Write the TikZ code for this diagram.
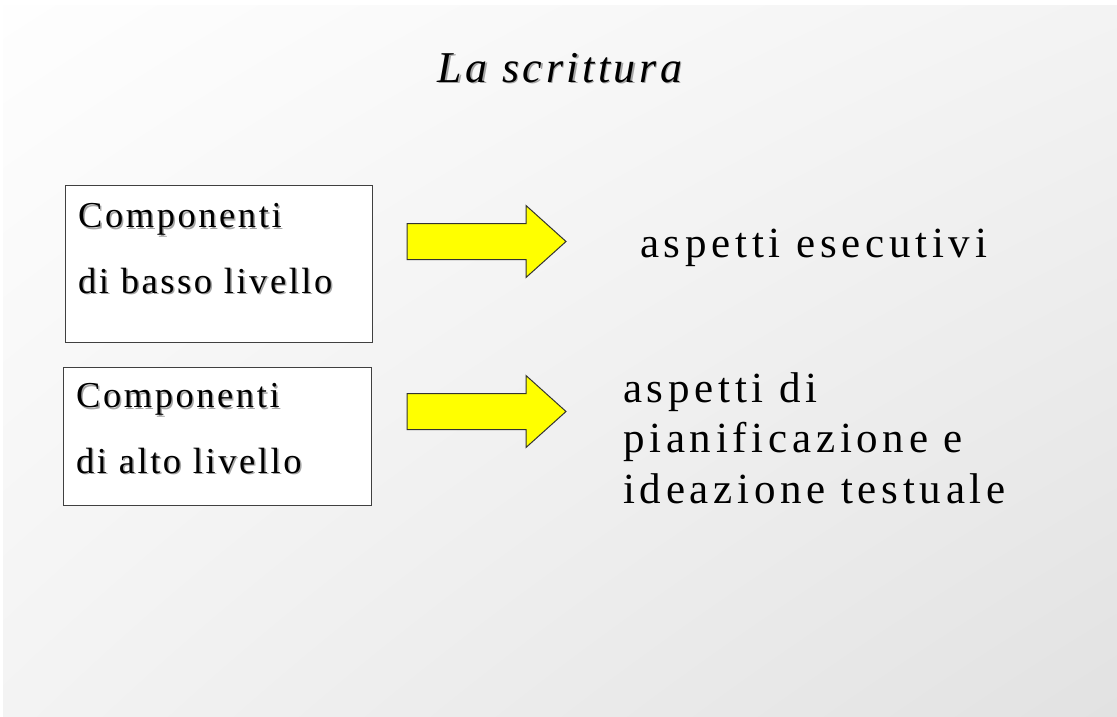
\documentclass[tikz,border=0pt]{standalone}
\usepackage{fontspec}
\usetikzlibrary{shadings}
\setmainfont{Liberation Serif}
\newfontfamily\titlefont[LetterSpace=8]{Liberation Serif}
\newfontfamily\boxfont[LetterSpace=7]{Liberation Serif}
\newfontfamily\aspectfont[LetterSpace=11]{Liberation Serif}
\definecolor{sfondoA}{HTML}{FEFEFE}
\definecolor{sfondoB}{HTML}{F3F3F3}
\definecolor{sfondoC}{HTML}{E2E2E2}
\definecolor{frecciagialla}{HTML}{FFFF00}
\tikzset{
    compbox/.style = {draw = black!75, fill = white, line width = 1pt, inner sep = 0pt, anchor = north west},
    comptext/.style = {font = \boxfont\fontsize{36.5}{65.5}\selectfont, align = left, anchor = base west, inner sep = 0pt},
    aspecttext/.style = {font = \aspectfont\fontsize{43}{50.5}\selectfont, align = left, anchor = base west, inner sep = 0pt},
    titletext/.style = {font = \titlefont\itshape\fontsize{44}{50}\selectfont, anchor = base, inner sep = 0pt},
    ombra/.style = {text = black!35}
}
\begin{document}
\begin{tikzpicture}[x = 1pt, y = -1pt]
        \useasboundingbox (0, 0) rectangle (1117, 717);
        \fill[white] (0, 0) rectangle (1117, 717);
        \shade[upper left = sfondoA, upper right = sfondoB, lower left = sfondoB, lower right = sfondoC] (3, 6) rectangle (1117, 717);
        % titolo con ombra
        \node[titletext, ombra] (titolo-ombra) at (561.5, 83.5) {La scrittura};
        \node[titletext] (titolo) at (560, 82) {La scrittura};
        % riquadri (base = ultima riga)
        \node[compbox, minimum width = 307, minimum height = 157] (basso) at (65, 185) {};
        \node[compbox, minimum width = 308, minimum height = 138] (alto) at (63, 367) {};
        \node[comptext, ombra] (basso-ombra) at (79.5, 294.5) {Componenti\\di basso livello};
        \node[comptext] (basso-testo) at (78, 293) {Componenti\\di basso livello};
        \node[comptext, ombra] (alto-ombra) at (77.5, 474.5) {Componenti\\di alto livello};
        \node[comptext] (alto-testo) at (76, 473) {Componenti\\di alto livello};
        % frecce gialle
        \foreach \ay in {241.5, 411.5}{
            \filldraw[fill = frecciagialla, draw = black!80, line width = 1pt, line join = miter, shift = {(407, \ay)}] (0, -18) -- (119, -18) -- (119, -36) -- (159, 0) -- (119, 36) -- (119, 18) -- (0, 18) -- cycle;
        }
        % aspetti
        \node[aspecttext] (esecutivi) at (640, 257) {aspetti esecutivi};
        \node[aspecttext] (ideazione) at (623, 503) {aspetti di\\pianificazione e\\ideazione testuale};
    \end{tikzpicture}
\end{document}
